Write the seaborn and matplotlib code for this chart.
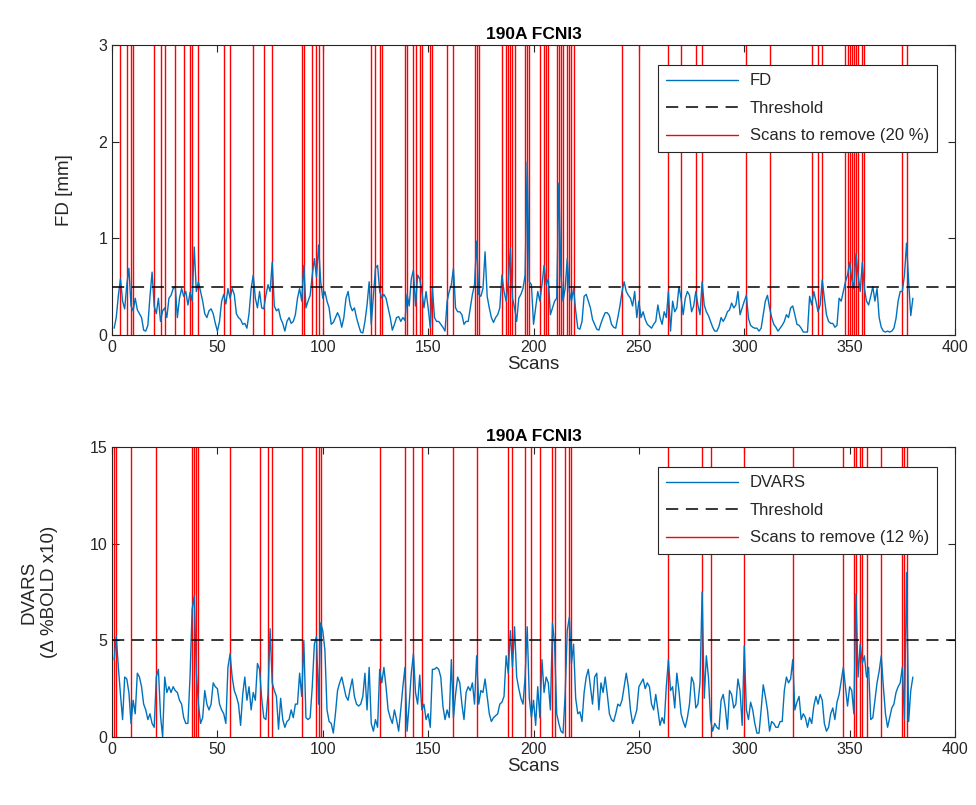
import numpy as np
import pandas as pd
import matplotlib
matplotlib.use("Agg")
import matplotlib.pyplot as plt
import seaborn as sns

sns.set_style("ticks")
plt.rcParams["font.family"] = ["Liberation Sans", "DejaVu Sans"]

title = "190A FCNI3"

# framewise displacement per scan (mm)
fd = [
    0.07, 0.18, 0.41, 0.58, 0.35, 0.27, 0.52, 0.69, 0.30, 0.25,
    0.38, 0.26, 0.22, 0.18, 0.05, 0.04, 0.10, 0.40, 0.65, 0.30,
    0.22, 0.38, 0.14, 0.25, 0.28, 0.18, 0.38, 0.41, 0.48, 0.50,
    0.18, 0.38, 0.48, 0.40, 0.45, 0.31, 0.44, 0.35, 0.91, 0.45,
    0.55, 0.45, 0.35, 0.22, 0.18, 0.25, 0.27, 0.22, 0.12, 0.04,
    0.14, 0.35, 0.42, 0.32, 0.48, 0.38, 0.48, 0.42, 0.22, 0.18,
    0.16, 0.11, 0.12, 0.07, 0.22, 0.48, 0.62, 0.38, 0.28, 0.45,
    0.28, 0.27, 0.41, 0.52, 0.45, 0.75, 0.30, 0.25, 0.27, 0.17,
    0.12, 0.04, 0.14, 0.18, 0.12, 0.14, 0.21, 0.38, 0.48, 0.35,
    0.72, 0.28, 0.35, 0.41, 0.62, 0.79, 0.60, 0.93, 0.55, 0.38,
    0.45, 0.35, 0.28, 0.11, 0.13, 0.18, 0.23, 0.18, 0.08, 0.18,
    0.38, 0.45, 0.31, 0.25, 0.28, 0.18, 0.10, 0.03, 0.02, 0.14,
    0.31, 0.55, 0.11, 0.40, 0.69, 0.72, 0.45, 0.38, 0.42, 0.38,
    0.28, 0.18, 0.05, 0.11, 0.18, 0.19, 0.14, 0.18, 0.15, 0.42,
    0.30, 0.58, 0.67, 0.30, 0.62, 0.58, 0.45, 0.28, 0.45, 0.28,
    0.08, 0.49, 0.18, 0.14, 0.14, 0.11, 0.08, 0.04, 0.35, 0.45,
    0.52, 0.69, 0.28, 0.24, 0.24, 0.21, 0.11, 0.14, 0.14, 0.28,
    0.42, 0.52, 0.97, 0.42, 0.40, 0.48, 0.86, 0.40, 0.28, 0.18,
    0.13, 0.18, 0.21, 0.28, 0.62, 0.45, 0.35, 0.55, 0.90, 0.38,
    0.28, 0.14, 0.38, 0.42, 0.48, 0.62, 1.79, 0.55, 0.52, 0.11,
    0.28, 0.45, 0.35, 0.52, 0.72, 0.52, 0.58, 0.21, 0.28, 0.35,
    0.38, 1.57, 0.62, 0.35, 0.48, 0.79, 0.45, 0.35, 0.48, 0.25,
    0.07, 0.06, 0.14, 0.40, 0.42, 0.35, 0.28, 0.16, 0.11, 0.06,
    0.05, 0.12, 0.18, 0.23, 0.23, 0.20, 0.11, 0.08, 0.07, 0.18,
    0.30, 0.45, 0.55, 0.45, 0.41, 0.38, 0.30, 0.45, 0.18, 0.35,
    0.18, 0.24, 0.16, 0.11, 0.09, 0.07, 0.11, 0.14, 0.31, 0.18,
    0.11, 0.24, 0.18, 0.45, 0.04, 0.35, 0.24, 0.28, 0.50, 0.38,
    0.21, 0.38, 0.45, 0.41, 0.24, 0.30, 0.45, 0.31, 0.21, 0.55,
    0.31, 0.24, 0.20, 0.14, 0.08, 0.04, 0.04, 0.09, 0.18, 0.14,
    0.18, 0.24, 0.26, 0.33, 0.28, 0.31, 0.45, 0.21, 0.28, 0.35,
    0.41, 0.17, 0.10, 0.08, 0.07, 0.07, 0.04, 0.07, 0.21, 0.35,
    0.41, 0.28, 0.18, 0.11, 0.08, 0.04, 0.07, 0.10, 0.14, 0.21,
    0.18, 0.28, 0.30, 0.21, 0.11, 0.10, 0.07, 0.03, 0.03, 0.03,
    0.40, 0.31, 0.45, 0.35, 0.24, 0.31, 0.57, 0.38, 0.21, 0.14,
    0.12, 0.12, 0.08, 0.10, 0.38, 0.35, 0.45, 0.55, 0.62, 0.75,
    0.58, 0.48, 0.84, 0.62, 0.45, 0.75, 0.48, 0.35, 0.31, 0.40,
    0.50, 0.35, 0.48, 0.18, 0.08, 0.04, 0.03, 0.04, 0.03, 0.04,
    0.07, 0.17, 0.35, 0.45, 0.45, 0.62, 0.95, 0.55, 0.20, 0.38,
]

# DVARS per scan (delta %BOLD x10)
dvars = [
    4.0, 5.2, 3.6, 2.2, 0.9, 3.1, 3.0, 2.3, 0.7, 1.9,
    1.2, 3.3, 3.1, 2.6, 1.7, 1.4, 0.9, 1.2, 0.7, 0.5,
    3.1, 3.5, 1.1, 0.0, 3.1, 2.3, 2.6, 2.3, 2.6, 2.4,
    2.3, 1.9, 1.7, 1.0, 0.7, 0.7, 3.1, 6.6, 7.3, 3.3,
    1.7, 0.7, 1.0, 2.4, 1.7, 1.4, 1.7, 2.8, 2.6, 2.5,
    1.7, 1.4, 1.2, 0.7, 3.6, 4.3, 3.1, 2.4, 2.1, 1.7,
    0.6, 2.2, 3.1, 1.9, 2.6, 1.4, 2.3, 1.9, 3.8, 3.5,
    2.0, 1.0, 0.9, 2.2, 5.6, 2.8, 2.4, 2.1, 0.4, 2.0,
    0.9, 0.5, 0.8, 0.9, 1.4, 1.0, 1.7, 1.7, 3.3, 2.1,
    5.0, 1.0, 0.9, 1.0, 2.6, 4.8, 5.2, 1.7, 5.9, 5.5,
    4.5, 1.4, 0.8, 0.7, 0.2, 1.2, 2.4, 2.8, 3.1, 2.6,
    2.1, 1.9, 2.5, 3.0, 2.1, 1.7, 1.6, 1.7, 2.1, 3.3,
    1.4, 3.6, 0.7, 0.3, 0.9, 0.5, 3.5, 2.8, 3.6, 2.6,
    1.4, 1.0, 0.7, 1.4, 0.9, 0.3, 1.4, 2.6, 3.6, 0.3,
    1.7, 3.3, 4.3, 2.3, 1.7, 3.2, 1.4, 1.7, 0.9, 1.2,
    0.5, 3.5, 3.5, 3.6, 3.5, 3.1, 1.6, 0.9, 1.4, 1.0,
    4.0, 1.0, 2.2, 3.1, 2.8, 1.7, 0.9, 2.3, 2.6, 2.4,
    2.8, 1.7, 4.2, 1.7, 2.4, 2.3, 3.0, 2.1, 1.2, 0.8,
    1.0, 1.1, 1.2, 1.7, 1.8, 2.1, 4.2, 3.3, 5.5, 3.6,
    5.7, 3.1, 2.5, 2.0, 1.7, 3.1, 5.7, 2.0, 1.0, 1.9,
    0.6, 2.6, 1.0, 4.0, 2.3, 3.1, 2.8, 1.4, 5.9, 4.8,
    1.2, 0.7, 0.3, 0.2, 2.2, 5.5, 6.2, 3.8, 4.8, 2.0,
    1.2, 1.3, 0.8, 2.3, 3.1, 3.5, 2.6, 1.7, 3.1, 3.3,
    1.4, 2.8, 2.3, 3.1, 2.2, 1.2, 0.9, 0.8, 1.2, 1.7,
    1.6, 1.9, 2.6, 3.3, 2.6, 1.4, 0.7, 1.0, 1.4, 2.6,
    2.8, 3.0, 2.5, 2.8, 2.6, 1.7, 1.4, 2.2, 1.4, 0.6,
    1.0, 0.7, 2.6, 4.0, 2.4, 2.6, 1.5, 3.3, 2.4, 1.2,
    0.8, 0.5, 1.0, 1.7, 3.1, 2.8, 1.5, 1.7, 2.8, 7.5,
    2.0, 4.2, 3.1, 0.9, 0.3, 0.7, 0.5, 0.4, 1.9, 2.2,
    1.5, 0.4, 2.4, 2.2, 1.5, 1.7, 3.0, 2.4, 0.6, 4.7,
    1.4, 0.9, 1.8, 1.4, 0.7, 0.2, 0.2, 1.4, 2.7, 2.1,
    1.4, 0.3, 0.8, 0.7, 0.5, 0.5, 0.8, 0.8, 2.4, 3.1,
    2.8, 3.0, 4.0, 1.4, 1.8, 2.1, 0.9, 1.2, 1.0, 0.5,
    1.0, 0.7, 1.6, 2.1, 1.7, 2.2, 1.9, 0.7, 0.3, 0.5,
    1.2, 1.5, 0.9, 1.8, 2.2, 2.9, 3.6, 2.6, 1.6, 2.6,
    2.4, 1.2, 7.4, 3.1, 4.8, 3.8, 4.2, 3.1, 3.6, 0.9,
    1.0, 1.9, 2.8, 3.4, 4.2, 2.6, 1.2, 0.5, 1.0, 1.5,
    1.7, 2.3, 2.6, 2.8, 3.6, 0.9, 8.5, 0.8, 2.4, 3.1,
]

# scans flagged for removal
fd_remove = [4, 7, 9, 10, 20, 23, 25, 30, 34, 37, 38, 41, 53, 56, 67, 72, 76,
             90, 91, 95, 97, 98, 100, 123, 125, 127, 128, 139, 140, 143, 144,
             146, 147, 151, 152, 159, 162, 172, 173, 174, 185, 187, 188, 189,
             190, 191, 196, 197, 198, 203, 205, 206, 207, 211, 212, 213, 214,
             216, 217, 218, 219, 242, 250, 264, 270, 277, 280, 301, 312, 332,
             335, 337, 348, 349, 350, 351, 352, 353, 354, 356, 357, 375, 377]
dvars_remove = [1, 2, 9, 21, 38, 39, 40, 41, 56, 70, 74, 76, 90, 97, 98, 99,
                127, 139, 143, 147, 162, 173, 188, 190, 196, 199, 203, 209,
                210, 215, 217, 218, 264, 280, 284, 300, 323, 347, 352, 353,
                355, 356, 358, 365, 375, 376, 377]

fd_threshold = 0.5
dvars_threshold = 5
fd_pct = 20
dvars_pct = 12

scans = np.arange(1, len(fd) + 1)
df = pd.DataFrame({"scan": scans, "FD": fd, "DVARS": dvars})

blue = "#0072BD"
axcol = "#262626"

fig = plt.figure(figsize=(9.76, 8.05), dpi=100)
ax1 = fig.add_axes([0.1148, 0.5839, 0.8637, 0.3602])
ax2 = fig.add_axes([0.1148, 0.0845, 0.8637, 0.3602])

panels = [
    (ax1, "FD", fd_threshold, fd_remove, fd_pct, (0, 3), [0, 1, 2, 3], "FD [mm]"),
    (ax2, "DVARS", dvars_threshold, dvars_remove, dvars_pct, (0, 15), [0, 5, 10, 15],
     "DVARS\n(Δ %BOLD x10)"),
]

for ax, col, thr, remove, pct, ylim, yticks, ylab in panels:
    sns.lineplot(data=df, x="scan", y=col, ax=ax, color=blue, lw=1.0,
                 label=col, zorder=3)
    ax.axhline(thr, color="black", lw=1.1, ls=(0, (8, 5)), label="Threshold", zorder=4)
    for i, s in enumerate(remove):
        ax.axvline(s, color="red", lw=1.0, zorder=2,
                   label=f"Scans to remove ({pct} %)" if i == 0 else None)
    ax.set_xlim(0, 400)
    ax.set_ylim(*ylim)
    ax.set_xticks(range(0, 401, 50))
    ax.set_yticks(yticks)
    ax.set_title(title, fontsize=12.5, fontweight="bold", color="black", pad=4)
    ax.set_xlabel("Scans", fontsize=13.5, color=axcol, labelpad=1)
    ax.set_ylabel(ylab, fontsize=13.5, color=axcol, linespacing=1.3)
    ax.tick_params(direction="in", top=True, right=True, length=5, width=0.8,
                   labelsize=11.5, colors=axcol)
    for sp in ax.spines.values():
        sp.set_color(axcol)
        sp.set_linewidth(0.8)
    leg = ax.legend(loc="upper right", bbox_to_anchor=(0.979, 0.931), fontsize=12,
                    frameon=True, fancybox=False, edgecolor=axcol, framealpha=1,
                    borderpad=0.5, labelspacing=0.75, handlelength=4.3,
                    handletextpad=0.7, borderaxespad=0)
    leg.get_frame().set_linewidth(0.8)
    for t in leg.get_texts():
        t.set_color(axcol)

ax1.yaxis.set_label_coords(-0.046, 0.5)
ax2.yaxis.set_label_coords(-0.064, 0.5)

fig.savefig("out.png", dpi=100, facecolor="white")
